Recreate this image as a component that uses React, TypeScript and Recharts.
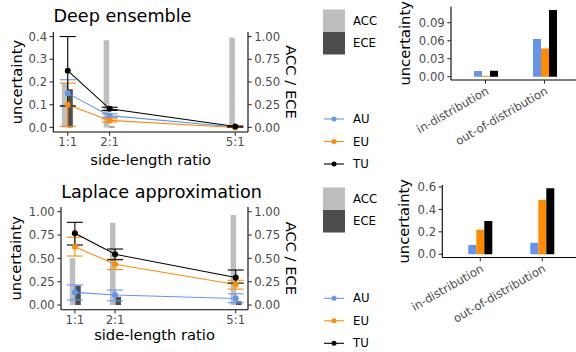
import React from "react";
import { ComposedChart, BarChart, Bar, Line, XAxis, YAxis, ErrorBar } from "recharts";

const ratios = [1, 2, 5];
const ratioLabels = ["1:1", "2:1", "5:1"];

// Deep ensemble, by side-length ratio
const deAcc = [0.49, 0.96, 0.99];
const deEce = [0.42, 0.01, 0.005];
const deAu = [0.15, 0.052, 0.002];
const deAuLo = [0.092, 0.045, 0.0];
const deAuHi = [0.21, 0.06, 0.004];
const deEu = [0.1, 0.031, 0.0];
const deEuLo = [0.005, 0.024, 0.0];
const deEuHi = [0.195, 0.038, 0.001];
const deTu = [0.25, 0.082, 0.004];
const deTuLo = [0.095, 0.075, 0.002];
const deTuHi = [0.4, 0.089, 0.006];

// Laplace approximation, by side-length ratio
const laAcc = [0.5, 0.88, 0.965];
const laEce = [0.21, 0.09, 0.04];
const laAu = [0.136, 0.107, 0.07];
const laAuLo = [0.055, 0.045, 0.025];
const laAuHi = [0.215, 0.16, 0.12];
const laEu = [0.625, 0.436, 0.22];
const laEuLo = [0.525, 0.38, 0.17];
const laEuHi = [0.726, 0.49, 0.265];
const laTu = [0.768, 0.543, 0.295];
const laTuLo = [0.643, 0.485, 0.235];
const laTuHi = [0.886, 0.6, 0.375];

// in- vs out-of-distribution
const splits = ["in-distribution", "out-of-distribution"];
const deSplitAu = [0.0095, 0.063];
const deSplitEu = [0.0015, 0.047];
const deSplitTu = [0.01, 0.111];
const laSplitAu = [0.082, 0.103];
const laSplitEu = [0.218, 0.485];
const laSplitTu = [0.297, 0.589];

const deTicks = [0, 0.1, 0.2, 0.3, 0.4];
const laTicks = [0, 0.25, 0.5, 0.75, 1];
const accTicks = [0, 0.25, 0.5, 0.75, 1];
const deSplitTicks = [0, 0.03, 0.06, 0.09];
const laSplitTicks = [0, 0.2, 0.4, 0.6];

const AU = "#6495ED";
const EU = "#FF8C00";
const TU = "#000000";
const ACC = "#BEBEBE";
const ECE = "#4D4D4D";
const TICK = "#4D4D4D";

const ratioRows = (s: any) =>
  ratios.map((x, i) => ({
    x,
    acc: s.acc[i],
    ece: s.ece[i],
    au: s.au[i],
    auErr: [s.au[i] - s.auLo[i], s.auHi[i] - s.au[i]],
    eu: s.eu[i],
    euErr: [s.eu[i] - s.euLo[i], s.euHi[i] - s.eu[i]],
    tu: s.tu[i],
    tuErr: [s.tu[i] - s.tuLo[i], s.tuHi[i] - s.tu[i]],
  }));

const deRows = ratioRows({ acc: deAcc, ece: deEce, au: deAu, auLo: deAuLo, auHi: deAuHi, eu: deEu, euLo: deEuLo, euHi: deEuHi, tu: deTu, tuLo: deTuLo, tuHi: deTuHi });
const laRows = ratioRows({ acc: laAcc, ece: laEce, au: laAu, auLo: laAuLo, auHi: laAuHi, eu: laEu, euLo: laEuLo, euHi: laEuHi, tu: laTu, tuLo: laTuLo, tuHi: laTuHi });

const splitRows = (au: number[], eu: number[], tu: number[]) =>
  splits.map((split, i) => ({ split, au: au[i], eu: eu[i], tu: tu[i] }));

const axisTitle = (text: string, x: number, y: number, angle = 0) => ({
  content: () => (
    <text
      x={x}
      y={y}
      transform={angle ? `rotate(${angle} ${x} ${y})` : undefined}
      textAnchor="middle"
      fontSize={14.7}
      fill="#000"
    >
      {text}
    </text>
  ),
});

const tickStyle = { fontSize: 11.7, fill: TICK };
const axisLine = { stroke: "#000", strokeWidth: 1.1 };
const tickLine = { stroke: "#333", strokeWidth: 1.1 };

function RatioPanel({ rows, ticks, digits, domain, top, plotLeft, plotTop, plotBottom }: any) {
  const W = 300;
  const H = 175;
  const plotRight = 248;
  const mid = (plotTop + plotBottom) / 2;
  const series = [
    { key: "au", err: "auErr", color: AU },
    { key: "eu", err: "euErr", color: EU },
    { key: "tu", err: "tuErr", color: TU },
  ];
  return (
    <div style={{ position: "absolute", left: 0, top, width: W, height: H }}>
      <ComposedChart
        width={W}
        height={H}
        data={rows}
        margin={{ top: plotTop, right: 0, bottom: 0, left: 0 }}
        barGap={0}
      >
        <XAxis
          dataKey="x"
          type="number"
          domain={[0.655, 5.305]}
          allowDataOverflow
          ticks={ratios}
          interval={0}
          tickFormatter={(v) => ratioLabels[ratios.indexOf(v)]}
          height={H - plotBottom}
          tick={tickStyle}
          tickSize={3.7}
          tickMargin={2}
          axisLine={axisLine}
          tickLine={tickLine}
          label={axisTitle("side-length ratio", (plotLeft + plotRight) / 2, 164.5)}
        />
        <YAxis
          yAxisId="left"
          domain={domain}
          allowDataOverflow
          ticks={ticks}
          interval={0}
          tickFormatter={(v) => v.toFixed(digits)}
          width={plotLeft}
          tick={tickStyle}
          tickSize={3.7}
          tickMargin={2.5}
          axisLine={axisLine}
          tickLine={tickLine}
          label={axisTitle("uncertainty", 21.5, mid, -90)}
        />
        <YAxis
          yAxisId="right"
          orientation="right"
          domain={[-0.05, 1.05]}
          allowDataOverflow
          ticks={accTicks}
          interval={0}
          tickFormatter={(v) => v.toFixed(2)}
          width={W - plotRight}
          tick={tickStyle}
          tickSize={3.7}
          tickMargin={2.5}
          axisLine={axisLine}
          tickLine={tickLine}
          label={axisTitle("ACC / ECE", 285.5, mid, 90)}
        />
        <Bar yAxisId="right" dataKey="acc" fill={ACC} barSize={5.5} isAnimationActive={false} />
        <Bar yAxisId="right" dataKey="ece" fill={ECE} barSize={5.5} isAnimationActive={false} />
        {series.map((s) => (
          <Line
            key={s.key}
            yAxisId="left"
            dataKey={s.key}
            stroke={s.color}
            strokeWidth={1.1}
            dot={{ r: 3, fill: s.color, stroke: s.color, strokeWidth: 0 }}
            activeDot={false}
            isAnimationActive={false}
          >
            <ErrorBar dataKey={s.err} direction="y" width={8} stroke={s.color} strokeWidth={1.1} />
          </Line>
        ))}
      </ComposedChart>
    </div>
  );
}

function SplitPanel({ rows, ticks, digits, domain, top, axisWidth, plotTop, plotBottom, rightMargin, pad, titleX }: any) {
  const W = 200;
  const H = 175;
  return (
    <div style={{ position: "absolute", left: 390, top, width: W, height: H }}>
      <BarChart
        width={W}
        height={H}
        data={rows}
        margin={{ top: plotTop, right: rightMargin, bottom: 0, left: 0 }}
        barGap={0}
      >
        <XAxis
          dataKey="split"
          padding={{ left: pad, right: pad }}
          height={H - plotBottom}
          tick={{ fontSize: 11.6, fill: TICK, angle: -30, textAnchor: "end" }}
          tickSize={3.7}
          tickMargin={2.5}
          axisLine={axisLine}
          tickLine={tickLine}
          interval={0}
        />
        <YAxis
          domain={domain}
          allowDataOverflow
          ticks={ticks}
          interval={0}
          tickFormatter={(v) => v.toFixed(digits)}
          width={axisWidth}
          tick={tickStyle}
          tickSize={3.7}
          tickMargin={2.5}
          axisLine={axisLine}
          tickLine={tickLine}
          label={axisTitle("uncertainty", titleX, (plotTop + plotBottom) / 2, -90)}
        />
        <Bar dataKey="au" fill={AU} barSize={8} isAnimationActive={false} />
        <Bar dataKey="eu" fill={EU} barSize={8} isAnimationActive={false} />
        <Bar dataKey="tu" fill={TU} barSize={8} isAnimationActive={false} />
      </BarChart>
    </div>
  );
}

function Legend({ top, lineTop }: any) {
  const lines = [
    { label: "AU", color: AU },
    { label: "EU", color: EU },
    { label: "TU", color: TU },
  ];
  return (
    <g>
      <rect x={323} y={top} width={22} height={22.5} fill={ACC} />
      <rect x={323} y={top + 22.5} width={22} height={22.5} fill={ECE} />
      <text x={353} y={top + 11.25} dominantBaseline="central" fontSize={11.7}>ACC</text>
      <text x={353} y={top + 33.75} dominantBaseline="central" fontSize={11.7}>ECE</text>
      {lines.map((l, i) => {
        const y = lineTop + i * 22.5;
        return (
          <g key={l.label}>
            <line x1={324} x2={344} y1={y} y2={y} stroke={l.color} strokeWidth={1.1} />
            <circle cx={334} cy={y} r={2.5} fill={l.color} />
            <text x={353} y={y} dominantBaseline="central" fontSize={11.7}>{l.label}</text>
          </g>
        );
      })}
    </g>
  );
}

export default function App() {
  return (
    <div
      style={{
        position: "fixed",
        left: 0,
        top: 0,
        width: 576,
        height: 352,
        overflow: "hidden",
        background: "#fff",
        fontFamily: "'DejaVu Sans', sans-serif",
      }}
    >
      <RatioPanel rows={deRows} ticks={deTicks} digits={1} domain={[-0.02, 0.42]} top={0} plotLeft={53.3} plotTop={32} plotBottom={132} />
      <RatioPanel rows={laRows} ticks={laTicks} digits={2} domain={[-0.05, 1.05]} top={175} plotLeft={61} plotTop={32} plotBottom={134.7} />
      <SplitPanel rows={splitRows(deSplitAu, deSplitEu, deSplitTu)} ticks={deSplitTicks} digits={2} domain={[-0.0055, 0.1167]} top={0} axisWidth={61} plotTop={6.7} plotBottom={80} rightMargin={11} pad={5} titleX={20} />
      <SplitPanel rows={splitRows(laSplitAu, laSplitEu, laSplitTu)} ticks={laSplitTicks} digits={1} domain={[-0.0295, 0.618]} top={175} axisWidth={52.3} plotTop={10} plotBottom={82.5} rightMargin={9.7} pad={7} titleX={19} />
      <svg width={576} height={352} style={{ position: "absolute", left: 0, top: 0, pointerEvents: "none" }}>
        <text x={53.5} y={21.5} fontSize={17.6}>Deep ensemble</text>
        <text x={61.2} y={198} fontSize={17.6}>Laplace approximation</text>
        <Legend top={9.5} lineTop={119} />
        <Legend top={187.5} lineTop={298.3} />
      </svg>
    </div>
  );
}
